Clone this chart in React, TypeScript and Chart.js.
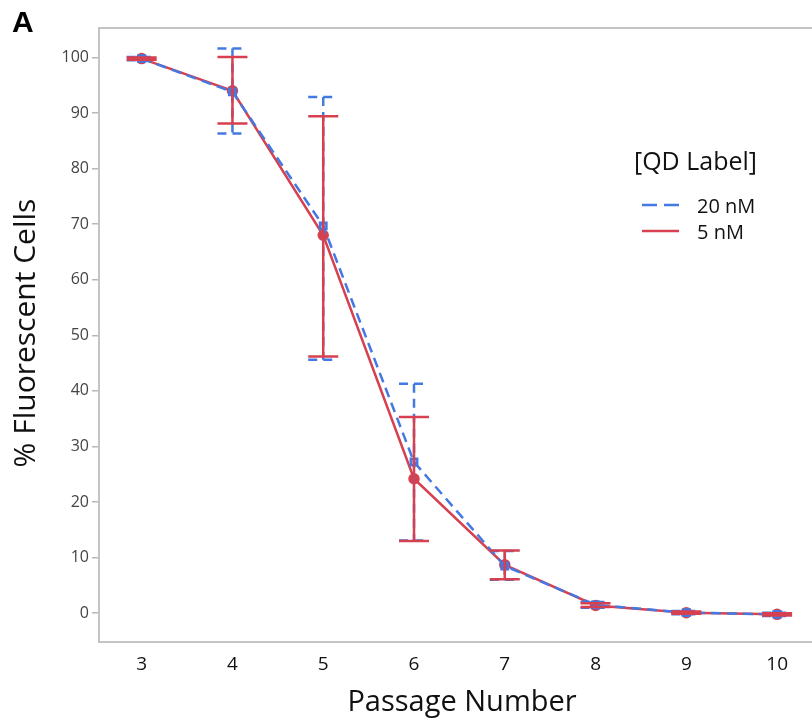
import React, { useEffect, useRef } from "react";
import { Chart, registerables } from "chart.js";

Chart.register(...registerables);

const passages = [3, 4, 5, 6, 7, 8, 9, 10];
const yTickValues = [0, 10, 20, 30, 40, 50, 60, 70, 80, 90, 100];

const nM20Mean = [99.8, 93.8, 69.7, 27.2, 8.5, 1.5, 0.1, -0.2];
const nM20Low = [99.5, 86.3, 45.6, 13.1, 6.0, 1.0, -0.2, -0.5];
const nM20High = [100.1, 101.6, 92.9, 41.3, 11.2, 2.0, 0.4, 0.1];

const nM5Mean = [99.8, 94.0, 68.0, 24.2, 8.7, 1.4, 0.1, -0.2];
const nM5Low = [99.6, 88.1, 46.2, 13.0, 6.1, 1.1, -0.1, -0.4];
const nM5High = [100.0, 100.1, 89.4, 35.3, 11.3, 1.8, 0.3, 0.0];

const seriesNames = ["20 nM", "5 nM"];
const legendTitle = "[QD Label]";
const xTitle = "Passage Number";
const yTitle = "% Fluorescent Cells";
const panelLabel = "A";

const BLUE = "#4479e2";
const RED = "#d6404f";
const AXIS = "#c4c4c4";
const FONT = "'Open Sans', 'Noto Sans', sans-serif";

const errorBars = [
  { low: nM20Low, high: nM20High, color: BLUE, dash: [9, 6] },
  { low: nM5Low, high: nM5High, color: RED, dash: [] as number[] },
];

const decorPlugin = {
  id: "decor",
  afterDatasetsDraw(chart: any) {
    const { ctx, scales } = chart;
    const xs = scales.x;
    const ys = scales.y;
    ctx.save();
    errorBars.forEach((eb) => {
      ctx.strokeStyle = eb.color;
      ctx.lineWidth = 2.5;
      ctx.setLineDash(eb.dash);
      passages.forEach((p, k) => {
        const px = xs.getPixelForValue(p);
        const yl = ys.getPixelForValue(eb.low[k]);
        const yh = ys.getPixelForValue(eb.high[k]);
        ctx.beginPath();
        ctx.moveTo(px, yh);
        ctx.lineTo(px, yl);
        ctx.moveTo(px - 15, yh);
        ctx.lineTo(px + 15, yh);
        ctx.moveTo(px - 15, yl);
        ctx.lineTo(px + 15, yl);
        ctx.stroke();
      });
    });
    ctx.restore();
  },
  afterDraw(chart: any) {
    const { ctx, chartArea, width } = chart;
    ctx.save();
    // top and bottom frame lines, open on the right
    ctx.strokeStyle = AXIS;
    ctx.lineWidth = 2;
    ctx.beginPath();
    ctx.moveTo(chartArea.left - 1, chartArea.top);
    ctx.lineTo(width, chartArea.top);
    ctx.moveTo(chartArea.left - 1, chartArea.bottom + 1);
    ctx.lineTo(width, chartArea.bottom + 1);
    ctx.stroke();

    // panel label
    ctx.fillStyle = "#000";
    ctx.font = "bold 30px 'Liberation Sans', Arial, sans-serif";
    ctx.textAlign = "left";
    ctx.textBaseline = "alphabetic";
    ctx.fillText(panelLabel, 12, 32);

    // axis titles
    ctx.fillStyle = "#111";
    ctx.font = `29px ${FONT}`;
    ctx.textAlign = "center";
    ctx.fillText(xTitle, 462, 711);
    ctx.save();
    ctx.translate(35, 333);
    ctx.rotate(-Math.PI / 2);
    ctx.font = `30px ${FONT}`;
    ctx.fillText(yTitle, 0, 0);
    ctx.restore();

    // legend
    ctx.textAlign = "left";
    ctx.font = `25px ${FONT}`;
    ctx.fillStyle = "#111";
    ctx.fillText(legendTitle, 634, 170);
    ctx.font = `20px ${FONT}`;
    const rows = [
      { y: 205, color: BLUE, dash: [15, 7] },
      { y: 231, color: RED, dash: [] as number[] },
    ];
    rows.forEach((r, i) => {
      ctx.strokeStyle = r.color;
      ctx.lineWidth = 2.5;
      ctx.setLineDash(r.dash);
      ctx.beginPath();
      ctx.moveTo(642, r.y);
      ctx.lineTo(679, r.y);
      ctx.stroke();
      ctx.fillText(seriesNames[i], 697, r.y + 8);
    });
    ctx.restore();
  },
};

export default function App() {
  const ref = useRef<HTMLCanvasElement>(null);
  useEffect(() => {
    if (!ref.current) return;
    const chart = new Chart(ref.current, {
      type: "line",
      data: {
        datasets: [
          {
            label: seriesNames[0],
            data: passages.map((p, i) => ({ x: p, y: nM20Mean[i] })),
            borderColor: BLUE,
            backgroundColor: BLUE,
            borderWidth: 2.5,
            borderDash: [10, 6],
            pointStyle: "rect",
            pointRadius: 4.5,
            pointBorderColor: BLUE,
            pointBackgroundColor: "rgba(68,121,226,0.4)",
            tension: 0,
          },
          {
            label: seriesNames[1],
            data: passages.map((p, i) => ({ x: p, y: nM5Mean[i] })),
            borderColor: RED,
            backgroundColor: RED,
            borderWidth: 2.5,
            pointStyle: "circle",
            pointRadius: 4.5,
            pointBorderColor: RED,
            pointBackgroundColor: RED,
            tension: 0,
          },
        ],
      },
      options: {
        animation: false,
        responsive: false,
        devicePixelRatio: 1,
        layout: { padding: { top: 28, left: 0, right: 0, bottom: 0 } },
        plugins: {
          legend: { display: false },
          tooltip: { enabled: false },
        },
        scales: {
          x: {
            type: "linear",
            min: 2.53,
            max: 10.307,
            afterBuildTicks: (s: any) => {
              s.ticks = passages.map((v) => ({ value: v }));
            },
            afterFit: (s: any) => {
              s.height = 82;
            },
            grid: { display: false, drawTicks: false },
            border: { display: false },
            ticks: {
              font: { family: FONT, size: 19 },
              color: "#111",
              padding: 12,
              maxRotation: 0,
              autoSkip: false,
            },
          },
          y: {
            type: "linear",
            min: -5,
            max: 105.3,
            afterBuildTicks: (s: any) => {
              s.ticks = yTickValues.map((v) => ({ value: v }));
            },
            afterFit: (s: any) => {
              s.width = 99;
            },
            grid: {
              drawOnChartArea: false,
              drawTicks: true,
              tickLength: 7,
              color: "#b8b8b8",
              lineWidth: 1.5,
            },
            border: { display: true, color: AXIS, width: 2 },
            ticks: {
              font: { family: FONT, size: 16 },
              color: "#444",
              padding: 3,
            },
          },
        },
      },
      plugins: [decorPlugin],
    } as any);
    return () => chart.destroy();
  }, []);
  return (
    <div style={{ position: "absolute", left: 0, top: 0, width: 812, height: 723, overflow: "hidden", background: "#fff" }}>
      <canvas ref={ref} width={812} height={723} style={{ display: "block" }} />
    </div>
  );
}
